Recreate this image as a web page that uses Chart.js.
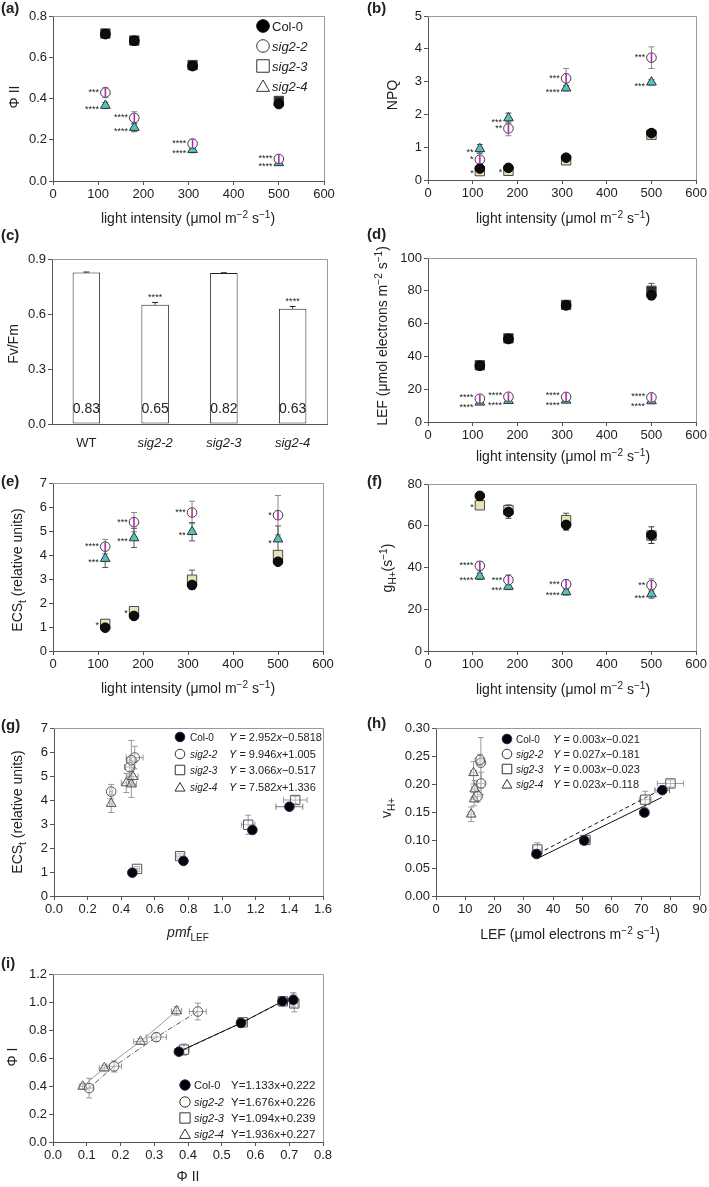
<!DOCTYPE html>
<html>
<head>
<meta charset="utf-8">
<script src="https://cdn.jsdelivr.net/npm/chart.js@4.4.1/dist/chart.umd.min.js"></script>
<style>
  html, body { margin: 0; background: #fff; }
  #page { position: relative; width: 709px; height: 1187px; overflow: hidden; background: #fff; }
  #page canvas { position: absolute; }
</style>
</head>
<body>
<div id="page"></div>
<script>
// ---------- data ----------
var light = [116, 180, 309, 500];
var names = ['Col-0', 'sig2-2', 'sig2-3', 'sig2-4'];

// (a) Phi II
var phi2Col0 = [0.712, 0.680, 0.557, 0.373];
var phi2Sig22 = [0.429, 0.306, 0.181, 0.107];
var phi2Sig23 = [0.715, 0.681, 0.562, 0.388];
var phi2Sig24 = [0.366, 0.259, 0.152, 0.088];
var phi2Col0Err = [0.010, 0.010, 0.012, 0.012];
var phi2Sig22Err = [0.025, 0.030, 0.022, 0.012];
var phi2Sig23Err = [0.010, 0.010, 0.012, 0.015];
var phi2Sig24Err = [0.015, 0.020, 0.015, 0.010];
var starsA22 = ['***', '****', '****', '****'];
var starsA24 = ['****', '****', '****', '****'];

// (b) NPQ
var npqCol0 = [0.35, 0.37, 0.68, 1.43];
var npqSig22 = [0.62, 1.57, 3.10, 3.73];
var npqSig23 = [0.27, 0.28, 0.60, 1.38];
var npqSig24 = [0.95, 1.89, 2.80, 2.98];
var npqCol0Err = [0.05, 0.05, 0.06, 0.08];
var npqSig22Err = [0.20, 0.22, 0.30, 0.33];
var npqSig23Err = [0.05, 0.05, 0.06, 0.08];
var npqSig24Err = [0.13, 0.15, 0.08, 0.08];
var starsB22 = ['*', '**', '***', '***'];
var starsB23 = ['*', '*', '', ''];
var starsB24 = ['**', '***', '****', '***'];

// (c) Fv/Fm
var fvfmCats = ['WT', 'sig2-2', 'sig2-3', 'sig2-4'];
var fvfm = [0.826, 0.651, 0.823, 0.629];
var fvfmErr = [0.003, 0.012, 0.002, 0.012];
var fvfmLabels = ['0.83', '0.65', '0.82', '0.63'];
var fvfmStars = ['', '****', '', '****'];

// (d) LEF
var lefCol0 = [34.3, 50.6, 71.1, 77.2];
var lefSig22 = [14.2, 15.4, 15.3, 15.0];
var lefSig23 = [34.6, 51.0, 71.4, 80.0];
var lefSig24 = [12.0, 13.0, 13.2, 12.8];
var lefCol0Err = [1.5, 1.5, 1.5, 2.5];
var lefSig22Err = [1.2, 1.2, 1.2, 1.2];
var lefSig23Err = [1.5, 1.5, 2.0, 4.5];
var lefSig24Err = [1.0, 1.0, 1.0, 1.0];
var starsD22 = ['****', '****', '****', '****'];
var starsD24 = ['****', '****', '****', '****'];

// (e) ECSt
var ecsCol0 = [0.97, 1.46, 2.75, 3.72];
var ecsSig22 = [4.35, 5.37, 5.77, 5.66];
var ecsSig23 = [1.13, 1.66, 2.97, 4.00];
var ecsSig24 = [3.85, 4.71, 4.97, 4.66];
var ecsCol0Err = [0.08, 0.08, 0.10, 0.12];
var ecsSig22Err = [0.30, 0.40, 0.47, 0.82];
var ecsSig23Err = [0.10, 0.12, 0.40, 0.15];
var ecsSig24Err = [0.37, 0.40, 0.38, 0.55];
var starsE22 = ['****', '***', '***', '*'];
var starsE23 = ['*', '*', '', ''];
var starsE24 = ['***', '***', '**', '*'];

// (f) gH+
var ghCol0 = [74.3, 66.6, 60.4, 55.5];
var ghSig22 = [40.8, 34.0, 32.0, 31.6];
var ghSig23 = [69.8, 67.5, 62.7, 55.3];
var ghSig24 = [35.8, 30.9, 28.3, 27.3];
var ghCol0Err = [1.5, 3.0, 2.5, 4.0];
var ghSig22Err = [2.0, 2.5, 2.0, 3.0];
var ghSig23Err = [1.5, 2.5, 3.3, 2.0];
var ghSig24Err = [1.5, 1.5, 1.5, 2.0];
var starsF22 = ['****', '***', '***', '**'];
var starsF23 = ['*', '', '', ''];
var starsF24 = ['****', '***', '****', '***'];

// (g) ECSt vs pmf_LEF
var pmfCol0 = [0.466, 0.770, 1.180, 1.400];
var pmfSig22 = [0.340, 0.450, 0.480, 0.460];
var pmfSig23 = [0.494, 0.750, 1.155, 1.435];
var pmfSig24 = [0.340, 0.430, 0.470, 0.460];
var pmfCol0Err = [0.01, 0.02, 0.02, 0.08];
var pmfSig22Err = [0.01, 0.03, 0.05, 0.03];
var pmfSig23Err = [0.015, 0.02, 0.04, 0.07];
var pmfSig24Err = [0.01, 0.03, 0.03, 0.03];
var eqG = ['Y = 2.952x\u22120.5818', 'Y = 9.946x+1.005', 'Y = 3.066x\u22120.517', 'Y = 7.582x+1.336'];

// (h) vH+ vs LEF
var vhCol0 = [0.075, 0.099, 0.149, 0.189];
var vhSig22 = [0.178, 0.201, 0.238, 0.243];
var vhSig23 = [0.083, 0.100, 0.172, 0.201];
var vhSig24 = [0.146, 0.173, 0.191, 0.220];
var vhCol0Err = [0.005, 0.005, 0.007, 0.005];
var vhSig22Err = [0.010, 0.020, 0.045, 0.010];
var vhSig23Err = [0.012, 0.007, 0.015, 0.006];
var vhSig24Err = [0.013, 0.012, 0.015, 0.020];
var fitXCol0 = [35, 77];
var fitYCol0 = [0.068, 0.176];
var fitXSig23 = [35, 79];
var fitYSig23 = [0.076, 0.196];
var eqH = ['Y = 0.003x\u22120.021', 'Y = 0.027x\u22120.181', 'Y = 0.003x\u22120.023', 'Y = 0.023x\u22120.118'];

// (i) Phi I vs Phi II
var phi1Col0 = [1.015, 1.005, 0.850, 0.645];
var phi1Sig22 = [0.932, 0.749, 0.540, 0.385];
var phi1Sig23 = [0.990, 1.005, 0.855, 0.660];
var phi1Sig24 = [0.936, 0.718, 0.528, 0.397];
var phi1Col0Err = [0.05, 0.02, 0.02, 0.02];
var phi1Sig22Err = [0.06, 0.03, 0.04, 0.07];
var phi1Sig23Err = [0.06, 0.02, 0.02, 0.04];
var phi1Sig24Err = [0.03, 0.02, 0.02, 0.02];
var eqI = ['Y=1.133x+0.222', 'Y=1.676x+0.226', 'Y=1.094x+0.239', 'Y=1.936x+0.227'];

// ---------- styles ----------
var FONT = '"Liberation Sans", Arial, Helvetica, sans-serif';

var palColor = {
  col0: {shape: 'circle', r: 4.8, fill: '#0d0d0d', stroke: '#000', err: '#333'},
  sig22: {shape: 'circle', r: 4.8, fill: '#ffffff', stroke: '#3a3a3a', err: '#8a8a8a', inner: '#c21ec2', starDy: -2},
  sig23: {shape: 'rect', r: 6.6, fill: '#e9e2b6', stroke: '#4a4a4a', err: '#555'},
  sig24: {shape: 'triangle', r: 5.6, fill: '#52c3bd', stroke: '#333', err: '#555', starDy: 2}
};
var palDark = Object.assign({}, palColor, {
  sig23: {shape: 'rect', r: 6.6, fill: '#2a2a2a', stroke: '#444', err: '#555'}
});
var palGray = {
  col0: {shape: 'circle', r: 4.8, fill: '#050505', stroke: '#20205e', err: '#777'},
  sig22: {shape: 'circle', r: 4.8, fill: 'rgba(255,255,255,0.3)', stroke: '#555', err: '#999'},
  sig23: {shape: 'rect', r: 6.6, fill: 'rgba(255,255,255,0.3)', stroke: '#555', err: '#999'},
  sig24: {shape: 'triangle', r: 5.6, fill: 'rgba(255,255,255,0.3)', stroke: '#555', err: '#999'}
};

var lightTitle = [['light intensity (\u03bcmol m', ''], ['\u22122', 'sup'], [' s', ''], ['\u22121', 'sup'], [')', '']];
var lefTitle = [['LEF (\u03bcmol electrons m', ''], ['\u22122', 'sup'], [' s', ''], ['\u22121', 'sup'], [')', '']];
var ecsTitle = [['ECS', ''], ['t', 'sub'], [' (relative units)', '']];

// ---------- helpers ----------
var decos = new Map();

function halfW(s) {
  return s.shape === 'rect' ? s.r * Math.SQRT1_2 : s.shape === 'triangle' ? s.r * 0.866 : s.r;
}

function ds(pal, k, xs, ys, extra) {
  var s = pal[k];
  return Object.assign({
    data: xs.map(function (x, i) { return {x: x, y: ys[i]}; }),
    pointStyle: s.shape, pointRadius: s.r, pointBorderWidth: 1,
    pointBackgroundColor: s.fill, pointBorderColor: s.stroke,
    backgroundColor: s.fill, borderColor: s.stroke,
    errColor: s.err, inner: s.inner, halfW: halfW(s), starDy: s.starDy || 0
  }, extra);
}

function eqSegs(str, it) {
  if (!it) return [[str, '']];
  return str.split(/([Yx])/).filter(Boolean).map(function (p) {
    return [p, (p === 'Y' || p === 'x') ? 'i' : ''];
  });
}

function rich(ctx, segs, x, y, size, rot, align) {
  ctx.save();
  ctx.translate(x, y);
  if (rot) ctx.rotate(-Math.PI / 2);
  ctx.fillStyle = '#222';
  ctx.textBaseline = 'alphabetic';
  ctx.textAlign = 'left';
  var parts = segs.map(function (s) {
    var f = s[1] || '';
    var small = /su[pb]$/.test(f);
    var sz = small ? size * 0.72 : size;
    var font = (f.charAt(0) === 'i' ? 'italic ' : '') + (f === 'B' ? 'bold ' : '') + sz + 'px ' + FONT;
    ctx.font = font;
    return {t: s[0], font: font, w: ctx.measureText(s[0]).width,
      dy: /sup$/.test(f) ? -size * 0.38 : /sub$/.test(f) ? size * 0.25 : 0};
  });
  var W = parts.reduce(function (a, p) { return a + p.w; }, 0);
  var cx = align === 'center' ? -W / 2 : align === 'right' ? -W : 0;
  parts.forEach(function (p) {
    ctx.font = p.font;
    ctx.fillText(p.t, cx, size * 0.36 + p.dy);
    cx += p.w;
  });
  ctx.restore();
}

function drawMark(ctx, shape, x, y, r, fill, stroke) {
  ctx.beginPath();
  if (shape === 'circle') ctx.arc(x, y, r, 0, Math.PI * 2);
  else if (shape === 'rect') { var s = r * Math.SQRT1_2; ctx.rect(x - s, y - s, 2 * s, 2 * s); }
  else { ctx.moveTo(x, y - r); ctx.lineTo(x + 0.866 * r, y + 0.5 * r); ctx.lineTo(x - 0.866 * r, y + 0.5 * r); ctx.closePath(); }
  ctx.fillStyle = fill; ctx.fill();
  ctx.strokeStyle = stroke; ctx.lineWidth = 1; ctx.stroke();
}

function drawErrors(chart) {
  var ctx = chart.ctx, sx = chart.scales.x, sy = chart.scales.y;
  chart.data.datasets.forEach(function (d, i) {
    if (!d.yErr && !d.xErr) return;
    var meta = chart.getDatasetMeta(i);
    ctx.save();
    ctx.strokeStyle = d.errColor || '#777';
    ctx.lineWidth = 1;
    ctx.beginPath();
    meta.data.forEach(function (el, j) {
      var v = d.data[j];
      var vy = typeof v === 'number' ? v : v.y;
      if (d.yErr && d.yErr[j]) {
        var top = sy.getPixelForValue(vy + d.yErr[j]);
        var bot = d.barUp ? el.y : sy.getPixelForValue(vy - d.yErr[j]);
        ctx.moveTo(el.x, bot); ctx.lineTo(el.x, top);
        ctx.moveTo(el.x - 3, top); ctx.lineTo(el.x + 3, top);
        if (!d.barUp) { ctx.moveTo(el.x - 3, bot); ctx.lineTo(el.x + 3, bot); }
      }
      if (d.xErr && d.xErr[j]) {
        var l = sx.getPixelForValue(v.x - d.xErr[j]), r = sx.getPixelForValue(v.x + d.xErr[j]);
        ctx.moveTo(l, el.y); ctx.lineTo(r, el.y);
        ctx.moveTo(l, el.y - 3); ctx.lineTo(l, el.y + 3);
        ctx.moveTo(r, el.y - 3); ctx.lineTo(r, el.y + 3);
      }
    });
    ctx.stroke();
    ctx.restore();
  });
}

var decoPlugin = {
  id: 'deco',
  beforeDatasetsDraw: function (chart) {
    var ctx = chart.ctx, a = chart.chartArea;
    ctx.save();
    ctx.strokeStyle = '#9a9a9a';
    ctx.lineWidth = 1;
    ctx.beginPath();
    ctx.moveTo(a.left, Math.round(a.top) + 0.5);
    ctx.lineTo(Math.round(a.right) + 0.5, Math.round(a.top) + 0.5);
    ctx.lineTo(Math.round(a.right) + 0.5, a.bottom);
    ctx.stroke();
    ctx.restore();
    drawErrors(chart);
  },
  afterDatasetsDraw: function (chart) {
    var ctx = chart.ctx, sy = chart.scales.y;
    ctx.save();
    chart.data.datasets.forEach(function (d, i) {
      var meta = chart.getDatasetMeta(i);
      meta.data.forEach(function (el, j) {
        if (d.inner) {
          ctx.strokeStyle = d.inner;
          ctx.lineWidth = 1.6;
          ctx.beginPath();
          ctx.moveTo(el.x, el.y - d.pointRadius + 0.5);
          ctx.lineTo(el.x, el.y + d.pointRadius - 0.5);
          ctx.stroke();
        }
        if (d.stars && d.stars[j]) {
          ctx.font = '9px ' + FONT;
          ctx.fillStyle = '#222';
          if (d.barUp) {
            ctx.textAlign = 'center';
            ctx.fillText(d.stars[j], el.x, sy.getPixelForValue(d.data[j] + d.yErr[j]) - 2);
          } else {
            ctx.textAlign = 'right';
            ctx.fillText(d.stars[j], el.x - d.halfW - 1.5, el.y + 4.5 + (d.starDy || 0));
          }
        }
        if (d.valueLabels) {
          ctx.font = '14px ' + FONT;
          ctx.fillStyle = '#222';
          ctx.textAlign = 'center';
          ctx.fillText(d.valueLabels[j], el.x, chart.chartArea.bottom - 11);
        }
      });
    });
    ctx.restore();
  },
  afterDraw: function (chart) {
    var deco = decos.get(chart.canvas), ctx = chart.ctx;
    if (!deco) return;
    (deco.marks || []).forEach(function (m) {
      drawMark(ctx, m.shape, m.x - deco.ox, m.y - deco.oy, m.r, m.fill, m.stroke);
    });
    (deco.texts || []).forEach(function (t) {
      rich(ctx, t.segs, t.x - deco.ox, t.y - deco.oy, t.size, t.rot, t.align);
    });
  }
};

function axis(min, max, step, dec) {
  return {
    type: 'linear', min: min, max: max,
    grid: {drawOnChartArea: false, drawTicks: true, tickLength: 4, color: '#555'},
    border: {color: '#555'},
    ticks: {stepSize: step, font: {size: 13, family: FONT}, color: '#222', padding: 2,
      maxRotation: 0, autoSkip: false,
      callback: function (v) { return v.toFixed(dec); }}
  };
}

function legend(mx, nx, ex, rows, r, nameSize, eqs, eqSize, eqItalic, navy) {
  var marks = [], texts = [];
  var shapes = ['circle', 'circle', 'rect', 'triangle'];
  var rr = [r, r, r * 1.4, r * 1.2];
  names.forEach(function (n, i) {
    marks.push({x: mx, y: rows[i] + (i === 3 ? r * 0.25 : 0), shape: shapes[i], r: rr[i],
      fill: i === 0 ? '#000' : '#fff', stroke: i === 0 ? (navy || '#000') : '#333'});
    texts.push({x: nx, y: rows[i], segs: [[n, i === 0 ? '' : 'i']], size: nameSize, align: 'left'});
    if (eqs) texts.push({x: ex, y: rows[i], segs: eqSegs(eqs[i], eqItalic), size: eqSize, align: 'left'});
  });
  return {marks: marks, texts: texts};
}

function label(t, x, y) { return {x: x, y: y, segs: [[t, 'B']], size: 15, align: 'left'}; }
function yTitle(segs, x, y) { return {x: x, y: y, segs: segs, size: 14, rot: true, align: 'center'}; }
function xTitle(segs, x, y) { return {x: x, y: y, segs: segs, size: 14, align: 'center'}; }

function panel(box, area, cfg, deco) {
  var c = document.createElement('canvas');
  c.width = box[2]; c.height = box[3];
  c.style.left = box[0] + 'px'; c.style.top = box[1] + 'px';
  c.style.width = box[2] + 'px'; c.style.height = box[3] + 'px';
  document.getElementById('page').appendChild(c);
  deco.ox = box[0]; deco.oy = box[1];
  decos.set(c, deco);
  cfg.options.responsive = false;
  cfg.options.animation = false;
  cfg.options.events = [];
  cfg.options.devicePixelRatio = 1;
  cfg.options.layout = {padding: {left: 0, top: area[1] - box[1], right: box[0] + box[2] - area[2], bottom: 0}};
  cfg.options.plugins = {legend: {display: false}, tooltip: {enabled: false}};
  cfg.options.scales.x.afterFit = function (s) { s.height = box[1] + box[3] - area[3]; };
  cfg.options.scales.y.afterFit = function (s) { s.width = area[0] - box[0]; };
  cfg.plugins = [decoPlugin];
  return new Chart(c, cfg);
}

function scatter(box, area, xa, ya, datasets, deco) {
  return panel(box, area, {type: 'scatter', data: {datasets: datasets},
    options: {scales: {x: xa, y: ya}}}, deco);
}

function withLegend(texts, lg) {
  return {texts: texts.concat(lg.texts), marks: lg.marks};
}

// ---------- (a) ----------
scatter([0, 0, 355, 232], [53, 16, 324, 181], axis(0, 600, 100, 0), axis(0, 0.8, 0.2, 1), [
  ds(palDark, 'col0', light, phi2Col0, {yErr: phi2Col0Err}),
  ds(palDark, 'sig22', light, phi2Sig22, {yErr: phi2Sig22Err, stars: starsA22}),
  ds(palDark, 'sig23', light, phi2Sig23, {yErr: phi2Sig23Err}),
  ds(palDark, 'sig24', light, phi2Sig24, {yErr: phi2Sig24Err, stars: starsA24})
], withLegend([
  label('(a)', 1, 8), yTitle([['\u03a6 II', '']], 14, 97), xTitle(lightTitle, 188, 218)
], legend(263, 272, 0, [26, 46, 66, 86], 6.3, 13)));

// ---------- (b) ----------
scatter([355, 0, 354, 232], [428, 16, 698, 180], axis(0, 600, 100, 0), axis(0, 5, 1, 0), [
  ds(palColor, 'col0', light, npqCol0, {yErr: npqCol0Err}),
  ds(palColor, 'sig22', light, npqSig22, {yErr: npqSig22Err, stars: starsB22}),
  ds(palColor, 'sig23', light, npqSig23, {yErr: npqSig23Err, stars: starsB23}),
  ds(palColor, 'sig24', light, npqSig24, {yErr: npqSig24Err, stars: starsB24})
], {texts: [label('(b)', 367, 8), yTitle([['NPQ', '']], 392, 95), xTitle(lightTitle, 563, 218)]});

// ---------- (c) ----------
(function () {
  var ya = axis(0, 0.9, 0.3, 1);
  var xa = {type: 'category', grid: {display: false}, border: {color: '#555'},
    ticks: {color: '#222', padding: 4, maxRotation: 0, autoSkip: false,
      font: function (c) { return {size: 13, family: FONT, style: c.index === 0 ? 'normal' : 'italic'}; }}};
  panel([0, 224, 355, 228], [52, 259, 327, 424], {
    type: 'bar',
    data: {labels: fvfmCats, datasets: [{
      data: fvfm, backgroundColor: '#fff', borderColor: '#222', borderWidth: 1, borderSkipped: false,
      barPercentage: 0.4, categoryPercentage: 1,
      yErr: fvfmErr, barUp: true, errColor: '#222', stars: fvfmStars, valueLabels: fvfmLabels
    }]},
    options: {scales: {x: xa, y: ya}}
  }, {texts: [label('(c)', 1, 235), yTitle([['Fv/Fm', '']], 13, 344)]});
})();

// ---------- (d) ----------
scatter([355, 224, 354, 244], [428, 258, 698, 422], axis(0, 600, 100, 0), axis(0, 100, 20, 0), [
  ds(palDark, 'col0', light, lefCol0, {yErr: lefCol0Err}),
  ds(palDark, 'sig22', light, lefSig22, {yErr: lefSig22Err, stars: starsD22, starDy: -3}),
  ds(palDark, 'sig23', light, lefSig23, {yErr: lefSig23Err}),
  ds(palDark, 'sig24', light, lefSig24, {yErr: lefSig24Err, stars: starsD24, starDy: 3})
], {texts: [label('(d)', 367, 234), yTitle(lefTitle, 382, 336), xTitle(lightTitle, 563, 456)]});

// ---------- (e) ----------
scatter([0, 446, 355, 254], [53, 483, 323, 651], axis(0, 600, 100, 0), axis(0, 7, 1, 0), [
  ds(palColor, 'col0', light, ecsCol0, {yErr: ecsCol0Err}),
  ds(palColor, 'sig22', light, ecsSig22, {yErr: ecsSig22Err, stars: starsE22}),
  ds(palColor, 'sig23', light, ecsSig23, {yErr: ecsSig23Err, stars: starsE23}),
  ds(palColor, 'sig24', light, ecsSig24, {yErr: ecsSig24Err, stars: starsE24})
], {texts: [label('(e)', 1, 481), yTitle(ecsTitle, 17, 570), xTitle(lightTitle, 188, 688)]});

// ---------- (f) ----------
scatter([355, 462, 354, 238], [428, 484, 698, 651], axis(0, 600, 100, 0), axis(0, 80, 20, 0), [
  ds(palColor, 'col0', light, ghCol0, {yErr: ghCol0Err}),
  ds(palColor, 'sig22', light, ghSig22, {yErr: ghSig22Err, stars: starsF22}),
  ds(palColor, 'sig23', light, ghSig23, {yErr: ghSig23Err, stars: starsF23}),
  ds(palColor, 'sig24', light, ghSig24, {yErr: ghSig24Err, stars: starsF24})
], {texts: [label('(f)', 367, 481),
  yTitle([['g', ''], ['H+', 'sub'], ['(s', ''], ['\u22121', 'sup'], [')', '']], 387, 568),
  xTitle(lightTitle, 563, 689)]});

// ---------- (g) ----------
scatter([0, 700, 355, 246], [54, 728, 323, 896], axis(0, 1.6, 0.2, 1), axis(0, 7, 1, 0), [
  ds(palGray, 'col0', pmfCol0, ecsCol0, {yErr: ecsCol0Err, xErr: pmfCol0Err}),
  ds(palGray, 'sig22', pmfSig22, ecsSig22, {yErr: ecsSig22Err, xErr: pmfSig22Err}),
  ds(palGray, 'sig23', pmfSig23, ecsSig23, {yErr: ecsSig23Err, xErr: pmfSig23Err}),
  ds(palGray, 'sig24', pmfSig24, ecsSig24, {yErr: ecsSig24Err, xErr: pmfSig24Err})
], withLegend([
  label('(g)', 1, 725), yTitle(ecsTitle, 17, 812), xTitle([['pmf', 'i'], ['LEF', 'sub']], 188, 932)
], legend(180, 190, 229, [737, 754, 770, 787], 4.8, 10, eqG, 11, true, '#20205e')));

// ---------- (h) ----------
scatter([355, 700, 354, 246], [436, 728, 703, 896], axis(0, 90, 10, 0), axis(0, 0.3, 0.05, 2), [
  ds(palGray, 'col0', lefCol0, vhCol0, {yErr: vhCol0Err, xErr: lefCol0Err}),
  ds(palGray, 'sig22', lefSig22, vhSig22, {yErr: vhSig22Err, xErr: lefSig22Err}),
  ds(palGray, 'sig23', lefSig23, vhSig23, {yErr: vhSig23Err, xErr: lefSig23Err}),
  ds(palGray, 'sig24', lefSig24, vhSig24, {yErr: vhSig24Err, xErr: lefSig24Err}),
  {data: fitXCol0.map(function (x, i) { return {x: x, y: fitYCol0[i]}; }),
    showLine: true, pointRadius: 0, borderColor: '#111', borderWidth: 1},
  {data: fitXSig23.map(function (x, i) { return {x: x, y: fitYSig23[i]}; }),
    showLine: true, pointRadius: 0, borderColor: '#111', borderWidth: 1, borderDash: [4, 3]}
], withLegend([
  label('(h)', 367, 723), yTitle([['v', ''], ['H+', 'sub']], 386, 808), xTitle(lefTitle, 570, 934)
], legend(507, 516, 553, [739, 754, 769, 784], 4.8, 10, eqH, 11, true, '#20205e')));

// ---------- (i) ----------
scatter([0, 946, 355, 241], [53, 974, 323, 1142], axis(0, 0.8, 0.1, 1), axis(0, 1.2, 0.2, 1), [
  ds(palGray, 'col0', phi2Col0, phi1Col0, {yErr: phi1Col0Err, xErr: phi2Col0Err,
    showLine: true, borderColor: '#111', borderWidth: 1}),
  ds(palGray, 'sig22', phi2Sig22, phi1Sig22, {yErr: phi1Sig22Err, xErr: phi2Sig22Err,
    showLine: true, borderColor: '#555', borderWidth: 1, borderDash: [5, 2, 1, 2]}),
  ds(palGray, 'sig23', phi2Sig23, phi1Sig23, {yErr: phi1Sig23Err, xErr: phi2Sig23Err,
    showLine: true, borderColor: '#333', borderWidth: 1, borderDash: [4, 3]}),
  ds(palGray, 'sig24', phi2Sig24, phi1Sig24, {yErr: phi1Sig24Err, xErr: phi2Sig24Err,
    showLine: true, borderColor: '#999', borderWidth: 1})
], withLegend([
  label('(i)', 1, 963), yTitle([['\u03a6 I', '']], 12, 1057), xTitle([['\u03a6 II', '']], 188, 1176)
], legend(185, 194, 231, [1085, 1102, 1118, 1134], 5.2, 11, eqI, 11.5, false, '#20205e')));
</script>
</body>
</html>
